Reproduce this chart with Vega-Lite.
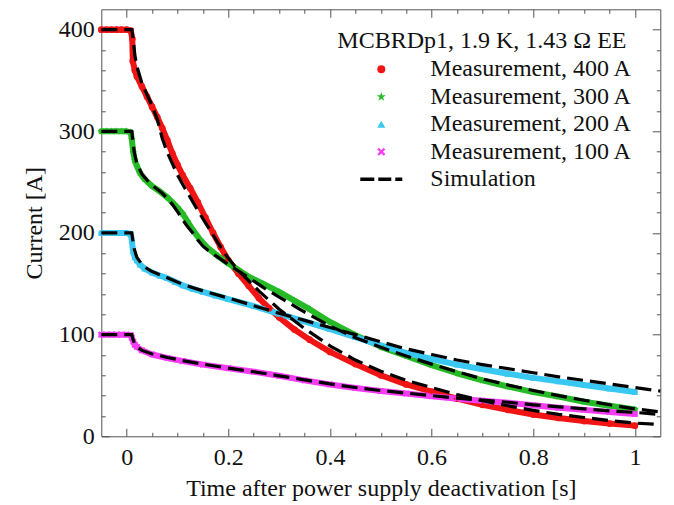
{
  "$schema": "https://vega.github.io/schema/vega-lite/v6.json",
  "width": 559,
  "height": 427,
  "autosize": "none",
  "padding": {"left": 101.3, "top": 9.3, "right": 13.7, "bottom": 68.7},
  "background": "white",
  "config": {
    "font": "Liberation Serif",
    "view": {"stroke": null},
    "axis": {"grid": false, "domainColor": "#555", "tickColor": "#555", "domainWidth": 1, "tickWidth": 1, "labelFont": "Liberation Serif", "labelFontSize": 24, "labelColor": "#111", "titleFont": "Liberation Serif", "titleFontSize": 24, "titleFontWeight": "normal", "titleColor": "#111", "labelOverlap": false, "labelFlush": false}
  },
  "datasets": {
    "meas": [
      {"series": "Measurement, 400 A", "t": -0.05, "I": 400}, {"series": "Measurement, 400 A", "t": -0.04, "I": 400}, {"series": "Measurement, 400 A", "t": -0.03, "I": 400}, {"series": "Measurement, 400 A", "t": -0.02, "I": 400}, {"series": "Measurement, 400 A", "t": -0.01, "I": 400}, {"series": "Measurement, 400 A", "t": 0, "I": 400}, {"series": "Measurement, 400 A", "t": 0.008, "I": 399}, {"series": "Measurement, 400 A", "t": 0.011, "I": 391}, {"series": "Measurement, 400 A", "t": 0.012, "I": 369}, {"series": "Measurement, 400 A", "t": 0.016, "I": 360}, {"series": "Measurement, 400 A", "t": 0.02, "I": 354}, {"series": "Measurement, 400 A", "t": 0.03, "I": 344}, {"series": "Measurement, 400 A", "t": 0.04, "I": 334}, {"series": "Measurement, 400 A", "t": 0.05, "I": 324}, {"series": "Measurement, 400 A", "t": 0.06, "I": 314}, {"series": "Measurement, 400 A", "t": 0.07, "I": 303}, {"series": "Measurement, 400 A", "t": 0.08, "I": 291}, {"series": "Measurement, 400 A", "t": 0.09, "I": 278}, {"series": "Measurement, 400 A", "t": 0.1, "I": 267}, {"series": "Measurement, 400 A", "t": 0.11, "I": 257}, {"series": "Measurement, 400 A", "t": 0.125, "I": 244}, {"series": "Measurement, 400 A", "t": 0.14, "I": 230}, {"series": "Measurement, 400 A", "t": 0.155, "I": 215}, {"series": "Measurement, 400 A", "t": 0.17, "I": 200}, {"series": "Measurement, 400 A", "t": 0.185, "I": 186}, {"series": "Measurement, 400 A", "t": 0.2, "I": 173}, {"series": "Measurement, 400 A", "t": 0.22, "I": 160}, {"series": "Measurement, 400 A", "t": 0.24, "I": 148}, {"series": "Measurement, 400 A", "t": 0.26, "I": 136}, {"series": "Measurement, 400 A", "t": 0.28, "I": 126}, {"series": "Measurement, 400 A", "t": 0.3, "I": 117}, {"series": "Measurement, 400 A", "t": 0.33, "I": 105}, {"series": "Measurement, 400 A", "t": 0.36, "I": 95}, {"series": "Measurement, 400 A", "t": 0.4, "I": 83}, {"series": "Measurement, 400 A", "t": 0.45, "I": 71}, {"series": "Measurement, 400 A", "t": 0.5, "I": 60}, {"series": "Measurement, 400 A", "t": 0.55, "I": 51}, {"series": "Measurement, 400 A", "t": 0.6, "I": 44}, {"series": "Measurement, 400 A", "t": 0.65, "I": 37}, {"series": "Measurement, 400 A", "t": 0.7, "I": 31}, {"series": "Measurement, 400 A", "t": 0.75, "I": 26}, {"series": "Measurement, 400 A", "t": 0.8, "I": 21.5}, {"series": "Measurement, 400 A", "t": 0.85, "I": 18}, {"series": "Measurement, 400 A", "t": 0.9, "I": 15}, {"series": "Measurement, 400 A", "t": 0.95, "I": 12.5}, {"series": "Measurement, 400 A", "t": 1.0, "I": 10.5},

      {"series": "Measurement, 300 A", "t": -0.05, "I": 300}, {"series": "Measurement, 300 A", "t": -0.04, "I": 300}, {"series": "Measurement, 300 A", "t": -0.03, "I": 300}, {"series": "Measurement, 300 A", "t": -0.02, "I": 300}, {"series": "Measurement, 300 A", "t": -0.01, "I": 300}, {"series": "Measurement, 300 A", "t": 0, "I": 300}, {"series": "Measurement, 300 A", "t": 0.008, "I": 299}, {"series": "Measurement, 300 A", "t": 0.01, "I": 292}, {"series": "Measurement, 300 A", "t": 0.013, "I": 279}, {"series": "Measurement, 300 A", "t": 0.016, "I": 271}, {"series": "Measurement, 300 A", "t": 0.02, "I": 266}, {"series": "Measurement, 300 A", "t": 0.026, "I": 259}, {"series": "Measurement, 300 A", "t": 0.035, "I": 253}, {"series": "Measurement, 300 A", "t": 0.05, "I": 246}, {"series": "Measurement, 300 A", "t": 0.065, "I": 241}, {"series": "Measurement, 300 A", "t": 0.08, "I": 235}, {"series": "Measurement, 300 A", "t": 0.09, "I": 230}, {"series": "Measurement, 300 A", "t": 0.1, "I": 225}, {"series": "Measurement, 300 A", "t": 0.11, "I": 219}, {"series": "Measurement, 300 A", "t": 0.12, "I": 211}, {"series": "Measurement, 300 A", "t": 0.13, "I": 203}, {"series": "Measurement, 300 A", "t": 0.145, "I": 193}, {"series": "Measurement, 300 A", "t": 0.16, "I": 185}, {"series": "Measurement, 300 A", "t": 0.18, "I": 177}, {"series": "Measurement, 300 A", "t": 0.2, "I": 170}, {"series": "Measurement, 300 A", "t": 0.22, "I": 163.5}, {"series": "Measurement, 300 A", "t": 0.24, "I": 157}, {"series": "Measurement, 300 A", "t": 0.27, "I": 149.5}, {"series": "Measurement, 300 A", "t": 0.3, "I": 142}, {"series": "Measurement, 300 A", "t": 0.33, "I": 133.5}, {"series": "Measurement, 300 A", "t": 0.36, "I": 125}, {"series": "Measurement, 300 A", "t": 0.4, "I": 112.5}, {"series": "Measurement, 300 A", "t": 0.45, "I": 99.5}, {"series": "Measurement, 300 A", "t": 0.5, "I": 88}, {"series": "Measurement, 300 A", "t": 0.55, "I": 79}, {"series": "Measurement, 300 A", "t": 0.6, "I": 70}, {"series": "Measurement, 300 A", "t": 0.65, "I": 62}, {"series": "Measurement, 300 A", "t": 0.7, "I": 55}, {"series": "Measurement, 300 A", "t": 0.75, "I": 49}, {"series": "Measurement, 300 A", "t": 0.8, "I": 43.5}, {"series": "Measurement, 300 A", "t": 0.85, "I": 39}, {"series": "Measurement, 300 A", "t": 0.9, "I": 34}, {"series": "Measurement, 300 A", "t": 0.95, "I": 30}, {"series": "Measurement, 300 A", "t": 1.0, "I": 26.5},

      {"series": "Measurement, 200 A", "t": -0.05, "I": 200}, {"series": "Measurement, 200 A", "t": -0.04, "I": 200}, {"series": "Measurement, 200 A", "t": -0.03, "I": 200}, {"series": "Measurement, 200 A", "t": -0.02, "I": 200}, {"series": "Measurement, 200 A", "t": -0.01, "I": 200}, {"series": "Measurement, 200 A", "t": 0, "I": 200}, {"series": "Measurement, 200 A", "t": 0.008, "I": 199}, {"series": "Measurement, 200 A", "t": 0.01, "I": 193}, {"series": "Measurement, 200 A", "t": 0.0125, "I": 182}, {"series": "Measurement, 200 A", "t": 0.016, "I": 176}, {"series": "Measurement, 200 A", "t": 0.02, "I": 173}, {"series": "Measurement, 200 A", "t": 0.026, "I": 169}, {"series": "Measurement, 200 A", "t": 0.035, "I": 165}, {"series": "Measurement, 200 A", "t": 0.05, "I": 161}, {"series": "Measurement, 200 A", "t": 0.065, "I": 158}, {"series": "Measurement, 200 A", "t": 0.08, "I": 155.5}, {"series": "Measurement, 200 A", "t": 0.095, "I": 152}, {"series": "Measurement, 200 A", "t": 0.11, "I": 148.5}, {"series": "Measurement, 200 A", "t": 0.13, "I": 145}, {"series": "Measurement, 200 A", "t": 0.15, "I": 142}, {"series": "Measurement, 200 A", "t": 0.175, "I": 138.5}, {"series": "Measurement, 200 A", "t": 0.2, "I": 135}, {"series": "Measurement, 200 A", "t": 0.25, "I": 128}, {"series": "Measurement, 200 A", "t": 0.3, "I": 120.5}, {"series": "Measurement, 200 A", "t": 0.35, "I": 113}, {"series": "Measurement, 200 A", "t": 0.4, "I": 105.5}, {"series": "Measurement, 200 A", "t": 0.45, "I": 97.5}, {"series": "Measurement, 200 A", "t": 0.5, "I": 89.5}, {"series": "Measurement, 200 A", "t": 0.55, "I": 82}, {"series": "Measurement, 200 A", "t": 0.6, "I": 76}, {"series": "Measurement, 200 A", "t": 0.65, "I": 70.5}, {"series": "Measurement, 200 A", "t": 0.7, "I": 66}, {"series": "Measurement, 200 A", "t": 0.75, "I": 61.5}, {"series": "Measurement, 200 A", "t": 0.8, "I": 57.5}, {"series": "Measurement, 200 A", "t": 0.85, "I": 54}, {"series": "Measurement, 200 A", "t": 0.9, "I": 50.5}, {"series": "Measurement, 200 A", "t": 0.95, "I": 47}, {"series": "Measurement, 200 A", "t": 1.0, "I": 43.5},

      {"series": "Measurement, 100 A", "t": -0.05, "I": 100}, {"series": "Measurement, 100 A", "t": -0.04, "I": 100}, {"series": "Measurement, 100 A", "t": -0.03, "I": 100}, {"series": "Measurement, 100 A", "t": -0.02, "I": 100}, {"series": "Measurement, 100 A", "t": -0.01, "I": 100}, {"series": "Measurement, 100 A", "t": 0, "I": 100}, {"series": "Measurement, 100 A", "t": 0.008, "I": 99.5}, {"series": "Measurement, 100 A", "t": 0.01, "I": 97}, {"series": "Measurement, 100 A", "t": 0.013, "I": 93}, {"series": "Measurement, 100 A", "t": 0.016, "I": 90}, {"series": "Measurement, 100 A", "t": 0.02, "I": 88}, {"series": "Measurement, 100 A", "t": 0.03, "I": 84.5}, {"series": "Measurement, 100 A", "t": 0.05, "I": 80.5}, {"series": "Measurement, 100 A", "t": 0.08, "I": 77}, {"series": "Measurement, 100 A", "t": 0.11, "I": 74}, {"series": "Measurement, 100 A", "t": 0.15, "I": 70.5}, {"series": "Measurement, 100 A", "t": 0.2, "I": 67}, {"series": "Measurement, 100 A", "t": 0.25, "I": 63.5}, {"series": "Measurement, 100 A", "t": 0.3, "I": 59.5}, {"series": "Measurement, 100 A", "t": 0.35, "I": 55}, {"series": "Measurement, 100 A", "t": 0.4, "I": 51}, {"series": "Measurement, 100 A", "t": 0.45, "I": 47.5}, {"series": "Measurement, 100 A", "t": 0.5, "I": 44.5}, {"series": "Measurement, 100 A", "t": 0.55, "I": 42}, {"series": "Measurement, 100 A", "t": 0.6, "I": 39.5}, {"series": "Measurement, 100 A", "t": 0.65, "I": 37}, {"series": "Measurement, 100 A", "t": 0.7, "I": 35}, {"series": "Measurement, 100 A", "t": 0.75, "I": 33}, {"series": "Measurement, 100 A", "t": 0.8, "I": 30.5}, {"series": "Measurement, 100 A", "t": 0.85, "I": 28}, {"series": "Measurement, 100 A", "t": 0.9, "I": 26}, {"series": "Measurement, 100 A", "t": 0.95, "I": 24}, {"series": "Measurement, 100 A", "t": 1.0, "I": 22}
    ],
    "sim": [
      {"curve": "400", "t": -0.05, "I": 400}, {"curve": "400", "t": 0.01, "I": 400}, {"curve": "400", "t": 0.013, "I": 390}, {"curve": "400", "t": 0.016, "I": 375}, {"curve": "400", "t": 0.02, "I": 364}, {"curve": "400", "t": 0.03, "I": 347}, {"curve": "400", "t": 0.04, "I": 336}, {"curve": "400", "t": 0.05, "I": 325}, {"curve": "400", "t": 0.06, "I": 312}, {"curve": "400", "t": 0.07, "I": 293}, {"curve": "400", "t": 0.08, "I": 279}, {"curve": "400", "t": 0.09, "I": 268}, {"curve": "400", "t": 0.1, "I": 257}, {"curve": "400", "t": 0.11, "I": 248}, {"curve": "400", "t": 0.125, "I": 235}, {"curve": "400", "t": 0.14, "I": 222}, {"curve": "400", "t": 0.155, "I": 210}, {"curve": "400", "t": 0.17, "I": 198}, {"curve": "400", "t": 0.185, "I": 186}, {"curve": "400", "t": 0.2, "I": 175}, {"curve": "400", "t": 0.22, "I": 163}, {"curve": "400", "t": 0.24, "I": 153}, {"curve": "400", "t": 0.26, "I": 143}, {"curve": "400", "t": 0.28, "I": 134}, {"curve": "400", "t": 0.3, "I": 125}, {"curve": "400", "t": 0.35, "I": 106}, {"curve": "400", "t": 0.4, "I": 89}, {"curve": "400", "t": 0.45, "I": 75}, {"curve": "400", "t": 0.5, "I": 64}, {"curve": "400", "t": 0.55, "I": 55}, {"curve": "400", "t": 0.6, "I": 48}, {"curve": "400", "t": 0.65, "I": 41}, {"curve": "400", "t": 0.7, "I": 35}, {"curve": "400", "t": 0.75, "I": 30}, {"curve": "400", "t": 0.8, "I": 25.5}, {"curve": "400", "t": 0.85, "I": 21.5}, {"curve": "400", "t": 0.9, "I": 18.5}, {"curve": "400", "t": 0.95, "I": 15.5}, {"curve": "400", "t": 1.0, "I": 13}, {"curve": "400", "t": 1.05, "I": 11.5},

      {"curve": "300", "t": -0.05, "I": 300}, {"curve": "300", "t": 0.01, "I": 300}, {"curve": "300", "t": 0.012, "I": 291}, {"curve": "300", "t": 0.015, "I": 279}, {"curve": "300", "t": 0.02, "I": 268}, {"curve": "300", "t": 0.03, "I": 258}, {"curve": "300", "t": 0.04, "I": 252}, {"curve": "300", "t": 0.05, "I": 247}, {"curve": "300", "t": 0.06, "I": 243}, {"curve": "300", "t": 0.07, "I": 239}, {"curve": "300", "t": 0.08, "I": 234}, {"curve": "300", "t": 0.09, "I": 228}, {"curve": "300", "t": 0.1, "I": 221}, {"curve": "300", "t": 0.11, "I": 213}, {"curve": "300", "t": 0.12, "I": 206}, {"curve": "300", "t": 0.13, "I": 200}, {"curve": "300", "t": 0.14, "I": 193}, {"curve": "300", "t": 0.15, "I": 187}, {"curve": "300", "t": 0.165, "I": 181}, {"curve": "300", "t": 0.18, "I": 176}, {"curve": "300", "t": 0.2, "I": 169}, {"curve": "300", "t": 0.24, "I": 156}, {"curve": "300", "t": 0.27, "I": 146}, {"curve": "300", "t": 0.3, "I": 137}, {"curve": "300", "t": 0.34, "I": 125}, {"curve": "300", "t": 0.4, "I": 108.5}, {"curve": "300", "t": 0.45, "I": 97}, {"curve": "300", "t": 0.5, "I": 87.5}, {"curve": "300", "t": 0.55, "I": 79}, {"curve": "300", "t": 0.6, "I": 71}, {"curve": "300", "t": 0.65, "I": 63.5}, {"curve": "300", "t": 0.7, "I": 56.5}, {"curve": "300", "t": 0.75, "I": 50.5}, {"curve": "300", "t": 0.8, "I": 45}, {"curve": "300", "t": 0.85, "I": 40}, {"curve": "300", "t": 0.9, "I": 35.5}, {"curve": "300", "t": 0.95, "I": 31}, {"curve": "300", "t": 1.0, "I": 27}, {"curve": "300", "t": 1.05, "I": 24},

      {"curve": "200", "t": -0.05, "I": 200}, {"curve": "200", "t": 0.01, "I": 200}, {"curve": "200", "t": 0.012, "I": 193}, {"curve": "200", "t": 0.015, "I": 184}, {"curve": "200", "t": 0.02, "I": 176}, {"curve": "200", "t": 0.03, "I": 169}, {"curve": "200", "t": 0.04, "I": 165}, {"curve": "200", "t": 0.05, "I": 162}, {"curve": "200", "t": 0.08, "I": 156}, {"curve": "200", "t": 0.11, "I": 149.5}, {"curve": "200", "t": 0.15, "I": 143}, {"curve": "200", "t": 0.2, "I": 136}, {"curve": "200", "t": 0.25, "I": 128.5}, {"curve": "200", "t": 0.3, "I": 121}, {"curve": "200", "t": 0.35, "I": 114}, {"curve": "200", "t": 0.4, "I": 107}, {"curve": "200", "t": 0.45, "I": 100}, {"curve": "200", "t": 0.5, "I": 93}, {"curve": "200", "t": 0.55, "I": 86}, {"curve": "200", "t": 0.6, "I": 80.5}, {"curve": "200", "t": 0.65, "I": 75}, {"curve": "200", "t": 0.7, "I": 70.5}, {"curve": "200", "t": 0.75, "I": 66.5}, {"curve": "200", "t": 0.8, "I": 62.5}, {"curve": "200", "t": 0.85, "I": 58.5}, {"curve": "200", "t": 0.9, "I": 55}, {"curve": "200", "t": 0.95, "I": 51.5}, {"curve": "200", "t": 1.0, "I": 48}, {"curve": "200", "t": 1.05, "I": 44.5},

      {"curve": "100", "t": -0.05, "I": 100}, {"curve": "100", "t": 0.01, "I": 100}, {"curve": "100", "t": 0.012, "I": 96}, {"curve": "100", "t": 0.015, "I": 92}, {"curve": "100", "t": 0.02, "I": 88}, {"curve": "100", "t": 0.03, "I": 84.5}, {"curve": "100", "t": 0.05, "I": 81}, {"curve": "100", "t": 0.08, "I": 77.5}, {"curve": "100", "t": 0.11, "I": 74.5}, {"curve": "100", "t": 0.15, "I": 71}, {"curve": "100", "t": 0.2, "I": 67}, {"curve": "100", "t": 0.25, "I": 63.5}, {"curve": "100", "t": 0.3, "I": 59.5}, {"curve": "100", "t": 0.35, "I": 55.5}, {"curve": "100", "t": 0.4, "I": 51.5}, {"curve": "100", "t": 0.45, "I": 48}, {"curve": "100", "t": 0.5, "I": 45}, {"curve": "100", "t": 0.55, "I": 42.5}, {"curve": "100", "t": 0.6, "I": 40}, {"curve": "100", "t": 0.65, "I": 37.5}, {"curve": "100", "t": 0.7, "I": 35.5}, {"curve": "100", "t": 0.75, "I": 33.5}, {"curve": "100", "t": 0.8, "I": 31}, {"curve": "100", "t": 0.85, "I": 29}, {"curve": "100", "t": 0.9, "I": 27}, {"curve": "100", "t": 0.95, "I": 25}, {"curve": "100", "t": 1.0, "I": 23.5}, {"curve": "100", "t": 1.05, "I": 21.5}
    ]
  },
  "layer": [
    {
      "data": {"name": "meas"},
      "mark": {"type": "line", "strokeWidth": 6, "strokeCap": "round", "strokeJoin": "round"},
      "encoding": {
        "x": {"field": "t", "type": "quantitative", "scale": {"domain": [-0.05, 1.05], "nice": false, "zero": false}, "axis": null},
        "y": {"field": "I", "type": "quantitative", "scale": {"domain": [0, 420], "nice": false, "zero": false}, "axis": null},
        "stroke": {"field": "series", "type": "nominal", "scale": {"domain": ["Measurement, 400 A", "Measurement, 300 A", "Measurement, 200 A", "Measurement, 100 A"], "range": ["#f01414", "#26bb26", "#38c8f2", "#f53cf5"]}, "legend": null}
      }
    },
    {
      "data": {"name": "meas"},
      "mark": {"type": "point", "filled": true, "size": 45, "opacity": 1},
      "encoding": {
        "x": {"field": "t", "type": "quantitative", "scale": {"domain": [-0.05, 1.05], "nice": false, "zero": false},
          "axis": {"orient": "top", "labels": false, "title": null, "values": [0, 0.05, 0.1, 0.15, 0.2, 0.25, 0.3, 0.35, 0.4, 0.45, 0.5, 0.55, 0.6, 0.65, 0.7, 0.75, 0.8, 0.85, 0.9, 0.95, 1.0],
            "tickSize": {"condition": {"test": "abs(datum.value*5 - round(datum.value*5)) < 0.001", "value": -8}, "value": -4}}},
        "y": {"field": "I", "type": "quantitative", "scale": {"domain": [0, 420], "nice": false, "zero": false},
          "axis": {"orient": "right", "labels": false, "title": null, "values": [0, 20, 40, 60, 80, 100, 120, 140, 160, 180, 200, 220, 240, 260, 280, 300, 320, 340, 360, 380, 400],
            "tickSize": {"condition": {"test": "datum.value % 100 === 0", "value": -8}, "value": -4}}},
        "color": {"field": "series", "type": "nominal",
          "scale": {"domain": ["Measurement, 400 A", "Measurement, 300 A", "Measurement, 200 A", "Measurement, 100 A", "Simulation"], "range": ["#f01414", "#26bb26", "#38c8f2", "#f53cf5", "#000000"]},
          "legend": {"orient": "none", "legendX": 236, "legendY": 20, "title": "MCBRDp1, 1.9 K, 1.43 Ω EE", "titleFont": "Liberation Serif", "titleFontSize": 24, "titleFontWeight": "normal", "titleColor": "#111", "titleLimit": 0, "labelLimit": 0, "labelFont": "Liberation Serif", "labelFontSize": 24, "labelColor": "#111", "symbolSize": 64, "symbolOffset": 32, "labelOffset": 37, "rowPadding": 3.5, "titlePadding": 4, "padding": 0, "symbolStrokeWidth": 0, "symbolOpacity": 1}},
        "shape": {"field": "series", "type": "nominal",
          "scale": {"domain": ["Measurement, 400 A", "Measurement, 300 A", "Measurement, 200 A", "Measurement, 100 A", "Simulation"],
            "range": ["circle", "M0,-1.2L0.27,-0.37L1.14,-0.37L0.44,0.14L0.71,0.97L0,0.46L-0.71,0.97L-0.44,0.14L-1.14,-0.37L-0.27,-0.37Z", "triangle-up", "M-1,-0.6L-0.6,-1L0,-0.4L0.6,-1L1,-0.6L0.4,0L1,0.6L0.6,1L0,0.4L-0.6,1L-1,0.6L-0.4,0Z", "M-5.25,-0.45H-1.75V0.45H-5.25Z M-0.75,-0.45H2.5V0.45H-0.75Z M3.5,-0.45H5.25V0.45H3.5Z"]}}
      }
    },
    {
      "data": {"name": "sim"},
      "mark": {"type": "line", "color": "#000000", "strokeWidth": 3.2, "strokeDash": [16, 7]},
      "encoding": {
        "x": {"field": "t", "type": "quantitative", "scale": {"domain": [-0.05, 1.05], "nice": false, "zero": false},
          "axis": {"orient": "bottom", "title": "Time after power supply deactivation [s]", "values": [0, 0.05, 0.1, 0.15, 0.2, 0.25, 0.3, 0.35, 0.4, 0.45, 0.5, 0.55, 0.6, 0.65, 0.7, 0.75, 0.8, 0.85, 0.9, 0.95, 1.0],
            "labelExpr": "abs(datum.value*5 - round(datum.value*5)) < 0.001 ? format(datum.value, '.1~f') : ''",
            "tickSize": {"condition": {"test": "abs(datum.value*5 - round(datum.value*5)) < 0.001", "value": -8}, "value": -4},
            "labelPadding": 17, "titlePadding": 3}},
        "y": {"field": "I", "type": "quantitative", "scale": {"domain": [0, 420], "nice": false, "zero": false},
          "axis": {"orient": "left", "title": "Current [A]", "values": [0, 20, 40, 60, 80, 100, 120, 140, 160, 180, 200, 220, 240, 260, 280, 300, 320, 340, 360, 380, 400],
            "labelExpr": "datum.value % 100 === 0 ? datum.label : ''",
            "tickSize": {"condition": {"test": "datum.value % 100 === 0", "value": -8}, "value": -4},
            "labelPadding": 15, "titlePadding": 12}},
        "detail": {"field": "curve", "type": "nominal"}
      }
    }
  ],
  "resolve": {"axis": {"x": "independent", "y": "independent"}}
}
